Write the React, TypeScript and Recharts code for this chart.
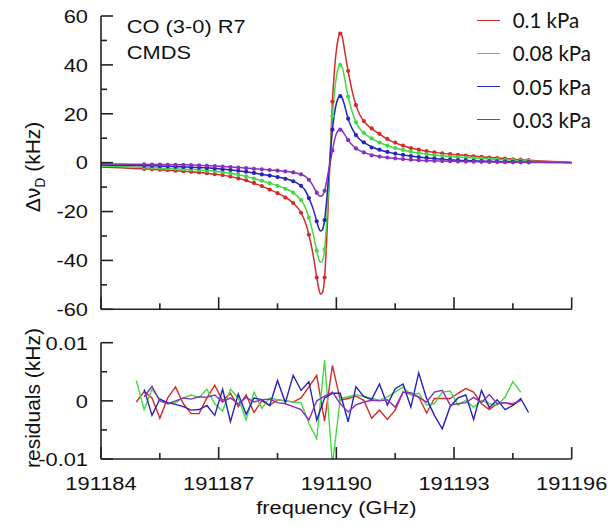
import React from "react";
import { ComposedChart, LineChart, Line, XAxis, YAxis, Legend } from "recharts";

// fit curve sampling (GHz), denser around the line centre
const fitFreq = [
  191184, 191184.5, 191185, 191185.5, 191186, 191186.5, 191187, 191187.5, 191188,
  191188.3, 191188.6, 191188.9, 191189.1, 191189.2, 191189.3, 191189.4, 191189.5,
  191189.55, 191189.6, 191189.65, 191189.7, 191189.75, 191189.8, 191189.85, 191189.9, 191189.95,
  191190, 191190.05, 191190.1, 191190.15, 191190.2, 191190.25, 191190.3,
  191190.4, 191190.5, 191190.6, 191190.75, 191191, 191191.4, 191191.8, 191192.2, 191192.6,
  191193.1, 191193.6, 191194.1, 191194.6, 191195, 191195.5, 191196,
];
const fitRed = [
  -1.8, -2.1, -2.5, -2.9, -3.4, -4.0, -4.9, -6.4, -9.0,
  -11.0, -13.3, -16.5, -20.5, -24, -29.5, -37, -47,
  -51.5, -53.8, -53, -47, -33, -14, 6, 25, 37.5,
  46, 51, 52.8, 51.5, 47, 42, 37.5,
  29.5, 23.5, 19.5, 16, 12.8, 8.8, 6.4, 5.0, 4.0,
  3.2, 2.5, 1.9, 1.3, 0.9, 0.5, 0.2,
];
const fitGreen = [
  -1.4, -1.6, -1.9, -2.2, -2.6, -3.0, -3.7, -4.9, -7.0,
  -8.4, -10.0, -12.3, -15.3, -18, -22.5, -28.5, -36,
  -39.5, -40.8, -40, -35.5, -25, -10.5, 4.5, 19, 28.5,
  35, 38.8, 40, 39, 35.5, 31, 27,
  21, 16.5, 13.8, 11.5, 9.0, 6.4, 4.8, 3.7, 2.9,
  2.3, 1.8, 1.3, 0.9, 0.6, 0.3, 0.1,
];
const fitBlue = [
  -1.0, -1.1, -1.2, -1.4, -1.7, -2.0, -2.5, -3.3, -4.5,
  -5.3, -6.2, -7.6, -9.5, -11.2, -14.5, -18.5, -24,
  -26.8, -28, -27.2, -23.5, -16, -6, 4, 13.5, 20,
  24.2, 26.5, 27.2, 26.4, 24, 21, 18,
  14, 11.3, 9.5, 7.8, 5.8, 4.0, 2.9, 2.1, 1.5,
  1.0, 0.7, 0.5, 0.3, 0.2, 0.1, 0.0,
];
const fitPurple = [
  -0.5, -0.6, -0.7, -0.8, -0.9, -1.1, -1.5, -2.0, -2.6,
  -3.0, -3.4, -4.0, -4.8, -5.5, -7.0, -9.3, -12.3,
  -13.4, -13.7, -13.2, -11.5, -7.8, -3.5, 0.5, 5, 9,
  11.8, 13.1, 13.5, 13, 11.8, 10.5, 9.2,
  7.3, 5.8, 4.9, 3.9, 2.8, 1.9, 1.3, 0.9, 0.7,
  0.5, 0.35, 0.25, 0.15, 0.1, 0.05, 0.0,
];

// measured points
const dotFreq = [
  191185.1, 191185.3, 191185.5, 191185.7, 191185.9, 191186.1, 191186.3, 191186.5, 191186.7, 191186.9,
  191187.1, 191187.3, 191187.5, 191187.7, 191187.9, 191188.1, 191188.3, 191188.5, 191188.7, 191188.9,
  191189.1, 191189.3, 191189.5, 191189.7, 191189.9, 191190.1, 191190.3, 191190.5, 191190.7, 191190.9,
  191191.1, 191191.3, 191191.5, 191191.7, 191191.9, 191192.1, 191192.3, 191192.5, 191192.7, 191192.9,
  191193.1, 191193.3, 191193.5, 191193.7, 191193.9, 191194.1, 191194.3, 191194.5, 191194.7, 191194.9,
];
const dotRed = [
  -2.6, -2.75, -2.9, -3.1, -3.3, -3.5, -3.75, -4.0, -4.3, -4.7,
  -5.1, -5.7, -6.4, -7.2, -8.3, -9.6, -11.0, -12.5, -14.3, -16.5,
  -20.5, -29.5, -47, -47, 25, 52.8, 37.5, 23.5, 17, 14,
  11.8, 9.7, 8.2, 7.0, 6.0, 5.3, 4.7, 4.2, 3.8, 3.5,
  3.2, 2.9, 2.6, 2.4, 2.1, 1.9, 1.7, 1.4, 1.2, 1.0,
];
const dotGreen = [
  -1.95, -2.1, -2.2, -2.35, -2.5, -2.7, -2.85, -3.0, -3.3, -3.55,
  -3.9, -4.4, -4.9, -5.6, -6.5, -7.4, -8.4, -9.5, -10.7, -12.3,
  -15.3, -22.5, -36, -35.5, 19, 40, 27, 16.5, 12.2, 9.9,
  8.2, 7.0, 6.0, 5.2, 4.5, 4.0, 3.5, 3.1, 2.8, 2.5,
  2.3, 2.1, 1.9, 1.7, 1.5, 1.3, 1.15, 1.0, 0.85, 0.7,
];
const dotBlue = [
  -1.25, -1.3, -1.4, -1.5, -1.65, -1.75, -1.9, -2.0, -2.2, -2.4,
  -2.65, -2.95, -3.3, -3.7, -4.2, -4.8, -5.3, -5.9, -6.6, -7.6,
  -9.5, -14.5, -24, -23.5, 13.5, 27.2, 18, 11.3, 8.3, 6.2,
  5.3, 4.4, 3.7, 3.2, 2.7, 2.3, 2.0, 1.7, 1.4, 1.2,
  1.0, 0.9, 0.75, 0.65, 0.55, 0.5, 0.4, 0.35, 0.3, 0.2,
];
const dotPurple = [
  -0.7, -0.75, -0.8, -0.85, -0.9, -0.95, -1.0, -1.1, -1.25, -1.4,
  -1.6, -1.8, -2.0, -2.25, -2.5, -2.75, -3.0, -3.3, -3.6, -4.0,
  -4.8, -7.0, -12.3, -11.5, 5, 13.5, 9.2, 5.8, 4.2, 3.0,
  2.5, 2.1, 1.75, 1.45, 1.2, 1.0, 0.85, 0.75, 0.65, 0.6,
  0.5, 0.45, 0.4, 0.33, 0.3, 0.25, 0.2, 0.15, 0.12, 0.1,
];

// residuals (kHz)
const resFreq = [
  191184.9, 191185.1, 191185.3, 191185.5, 191185.7, 191185.9, 191186.1, 191186.3, 191186.5, 191186.7,
  191186.9, 191187.1, 191187.3, 191187.5, 191187.7, 191187.9, 191188.1, 191188.3, 191188.5, 191188.7,
  191188.9, 191189.1, 191189.3, 191189.5, 191189.7, 191189.9, 191190.1, 191190.3, 191190.5, 191190.7,
  191190.9, 191191.1, 191191.3, 191191.5, 191191.7, 191191.9, 191192.1, 191192.3, 191192.5, 191192.7,
  191192.9, 191193.1, 191193.3, 191193.5, 191193.7, 191193.9, 191194.1, 191194.3, 191194.5, 191194.7,
  191194.9,
];
const resRed = [
  -0.0002, 0.0016, 0.0005, -0.003, 0.0005, 0.0024, -0.0005, -0.0022, -0.0022, 0.0005,
  0.0027, 0, 0.0013, -0.001, 0.001, -0.002, 0, -0.0008, 0.0002, 0,
  -0.0002, 0.0005, 0.0024, 0.0044, -0.0035, 0.0061, 0.0001, 0.0004, 0.0008, 0.0001,
  -0.003, -0.0016, -0.0032, -0.0016, 0.0015, 0.0011, 0.0007, -0.0021, 0.0004, 0.0004,
  0.0004, 0.0013, 0.0021, 0.0015, -0.0005, -0.0015, -0.0005, -0.0003, -0.0007, 0.0001,
  null,
];
const resGreen = [
  0.0035, -0.0015, 0.002, 0.0003, -0.0005, -0.0003, 0.0005, 0.001, 0.0006, 0.002,
  -0.0005, -0.0018, 0.002, 0.0005, -0.0033, 0.0015, -0.0013, 0.0005, 0.0002, 0,
  -0.0002, -0.0003, -0.0039, -0.0065, 0.007, -0.011, 0.0004, 0.0007, 0.001, 0.0008,
  0.0004, 0.0001, 0.0007, 0.0015, 0.0024, 0.001, 0.0013, -0.0007, -0.0005, 0.0015,
  0.0017, -0.0007, 0.0001, -0.0011, 0.0001, -0.0005, -0.0007, 0.0006, 0.0033, 0.0015,
  null,
];
const resBlue = [
  null, 0.002, -0.0025, 0.0003, -0.0003, -0.0006, -0.001, -0.0016, -0.0015, -0.0008,
  -0.0025, 0.002, -0.0036, 0.0012, -0.0023, 0.0005, 0.0002, -0.0008, 0.0035, -0.0003,
  0.0044, 0.0018, 0.0033, -0.0033, 0.0005, 0.0013, 0.0013, -0.0036, 0.0024, 0.0007,
  0.0002, 0.0029, -0.0007, 0.0021, 0.0029, -0.0011, 0.0048, 0.0004, -0.0025, -0.0048,
  -0.001, 0.0005, 0.001, -0.0032, 0.0018, -0.0012, 0.0002, -0.0015, -0.0008, 0.0004,
  -0.002,
];
const resPurple = [
  null, 0.0007, 0.0025, 0, -0.0005, 0, 0.0005, 0.0003, 0.0007, 0.0006,
  0.001, -0.0002, 0.0005, -0.0005, 0.0006, -0.0002, 0.0002, 0.0003, -0.0003, -0.0005,
  -0.001, -0.0015, -0.0033, 0, 0.0008, 0.0015, -0.0005, -0.0019, -0.0007, -0.0002,
  0.0001, 0, 0.0002, -0.0011, 0.0015, 0.0014, 0.0006, -0.0002, 0.0015, 0.0018,
  -0.0007, -0.0005, -0.0003, 0.0006, -0.0003, 0.0011, -0.0005, -0.0003, -0.0005, 0.0001,
  null,
];

const names = ["0.1 kPa", "0.08 kPa", "0.05 kPa", "0.03 kPa"];
const colors = ["#d42a2a", "#44d844", "#2424b8", "#8b2fbf"];
const freqTicks = [191184, 191185.5, 191187, 191188.5, 191190, 191191.5, 191193, 191194.5, 191196];
const topTicks = [-60, -50, -40, -30, -20, -10, 0, 10, 20, 30, 40, 50, 60];
const resTicks = [-0.01, -0.005, 0, 0.005, 0.01];

const fitSets = [fitRed, fitGreen, fitBlue, fitPurple];
const dotSets = [dotRed, dotGreen, dotBlue, dotPurple];
const resSets = [resRed, resGreen, resBlue, resPurple];

const rows = (xs: number[], ys: (number | null)[]) => xs.map((f, i) => ({ f, v: ys[i] }));

const FONT = "'Liberation Sans', Arial, sans-serif";
const AXIS = "#222";

function XTick(props: any) {
  const { x, y, payload, showLabel } = props;
  const v = payload.value;
  const major = Math.abs((v - 191184) % 3) < 1e-6;
  return (
    <g>
      <line x1={x} x2={x} y1={y} y2={y - (major ? 12 : 6)} stroke={AXIS} strokeWidth={1.6} />
      {showLabel && major && (
        <text transform={`translate(${x},${y + 31}) scale(1.15,1)`} textAnchor="middle"
          fontFamily={FONT} fontSize={19} fill="#111">
          {v}
        </text>
      )}
    </g>
  );
}

function YTick(props: any) {
  const { x, y, payload, isMajor } = props;
  const v = payload.value;
  const major = isMajor(v);
  return (
    <g>
      <line x1={x} x2={x + (major ? 12 : 6)} y1={y} y2={y} stroke={AXIS} strokeWidth={1.6} />
      {major && (
        <text transform={`translate(${x - 13},${y + 6.8}) scale(1.15,1)`} textAnchor="end"
          fontFamily={FONT} fontSize={19} fill="#111">
          {String(v)}
        </text>
      )}
    </g>
  );
}

function LegendBox() {
  return (
    <div style={{ fontFamily: "Lato, sans-serif", fontSize: 20.5, color: "#111" }}>
      {names.map((n, i) => (
        <div key={n} style={{ display: "flex", alignItems: "center", height: 33.3 }}>
          <div style={{ width: 23, borderTop: `1.6px solid ${colors[i]}`, marginRight: 13 }} />
          <span>{n}</span>
        </div>
      ))}
    </div>
  );
}

export default function App() {
  return (
    <div style={{ position: "absolute", left: 0, top: 0, width: 610, height: 527, background: "#fff", fontFamily: FONT }}>
      {/* main panel */}
      <div style={{ position: "absolute", left: 0, top: 0 }}>
        <ComposedChart width={610} height={345} margin={{ top: 16, right: 38.3, left: 41, bottom: 5.7 }}>
          <XAxis dataKey="f" type="number" domain={[191184, 191196]} ticks={freqTicks} interval={0}
            height={30} tickSize={0} tickMargin={0} tickLine={false}
            axisLine={{ stroke: AXIS, strokeWidth: 1.6 }} tick={<XTick showLabel={false} />} />
          <YAxis type="number" domain={[-60, 60]} ticks={topTicks} interval={0} width={60}
            tickSize={0} tickMargin={0} tickLine={false}
            axisLine={{ stroke: AXIS, strokeWidth: 1.6 }}
            tick={<YTick isMajor={(v: number) => v % 20 === 0} />} />
          <Legend content={<LegendBox />} layout="horizontal" verticalAlign="middle" align="center"
            wrapperStyle={{ position: "absolute", left: 476.7, top: 3.4, width: 130 }} />
          {fitSets.map((d, i) => (
            <Line key={"fit" + i} data={rows(fitFreq, d)} dataKey="v" type="monotone" stroke={colors[i]}
              strokeWidth={1.5} dot={false} activeDot={false} isAnimationActive={false} legendType="none" />
          ))}
          {dotSets.map((d, i) => (
            <Line key={"dot" + i} data={rows(dotFreq, d)} dataKey="v" stroke="none"
              dot={{ r: 2.1, fill: colors[i], stroke: "none" }} activeDot={false}
              isAnimationActive={false} legendType="none" />
          ))}
        </ComposedChart>
      </div>

      {/* residuals panel */}
      <div style={{ position: "absolute", left: 0, top: 330 }}>
        <LineChart width={610} height={197} margin={{ top: 12.7, right: 38.3, left: 41, bottom: 28 }}>
          <XAxis dataKey="f" type="number" domain={[191184, 191196]} ticks={freqTicks} interval={0}
            height={40} tickSize={0} tickMargin={0} tickLine={false}
            axisLine={{ stroke: AXIS, strokeWidth: 1.6 }} tick={<XTick showLabel />} />
          <YAxis type="number" domain={[-0.01, 0.01]} ticks={resTicks} interval={0} width={60}
            allowDataOverflow tickSize={0} tickMargin={0} tickLine={false}
            axisLine={{ stroke: AXIS, strokeWidth: 1.6 }}
            tick={<YTick isMajor={(v: number) => Math.abs(v) < 1e-9 || Math.abs(Math.abs(v) - 0.01) < 1e-9} />} />
          {resSets.map((d, i) => (
            <Line key={"res" + i} data={rows(resFreq, d)} dataKey="v" type="linear" stroke={colors[i]}
              strokeWidth={1.4} dot={false} activeDot={false} isAnimationActive={false} />
          ))}
        </LineChart>
      </div>

      {/* annotations and axis titles */}
      <svg width={610} height={527} style={{ position: "absolute", left: 0, top: 0, pointerEvents: "none" }}>
        <g fontFamily={FONT} fill="#111">
          <text transform="translate(126.7,32.7) scale(1.15,1)" fontSize={19}>CO (3-0) R7</text>
          <text transform="translate(126.7,59.3) scale(1.15,1)" fontSize={19}>CMDS</text>
          <text transform="translate(40,167) rotate(-90)" textAnchor="middle" fontSize={21}>
            Δν<tspan fontSize={14} dy={5}>D</tspan><tspan dy={-5}> (kHz)</tspan>
          </text>
          <text transform="translate(40,398) rotate(-90)" textAnchor="middle" fontSize={21}>residuals (kHz)</text>
          <text transform="translate(336.4,514) scale(1.15,1)" textAnchor="middle" fontSize={19}>frequency (GHz)</text>
        </g>
      </svg>
    </div>
  );
}
